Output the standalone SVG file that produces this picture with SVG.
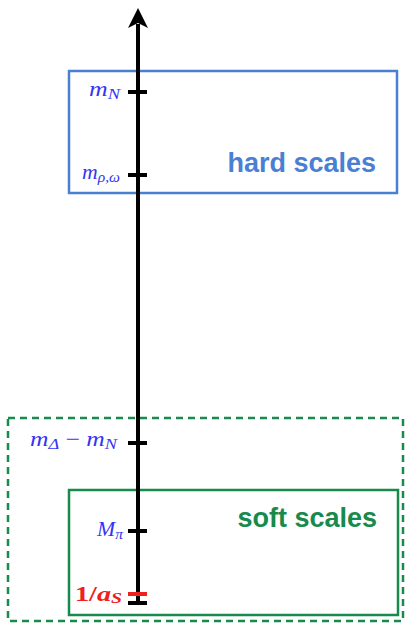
<svg xmlns="http://www.w3.org/2000/svg" width="406" height="624" viewBox="0 0 406 624">
<style>
.math{font-family:"Liberation Serif","DejaVu Serif",serif;font-style:italic;fill:#3434f4;font-size:21px}
.sub{font-size:15px}
.tick{stroke:#000;stroke-width:4}
.title{font-family:"Liberation Sans",Arial,sans-serif;font-weight:bold;font-size:27px}
</style>
<rect width="406" height="624" fill="#fff"/>
<g id="soft-outer">
<rect x="8" y="418" width="395" height="203" fill="none" stroke="#178a4c" stroke-width="2.5" stroke-dasharray="7,5"/>
</g>
<g id="hard-scales">
<rect x="69" y="71" width="328" height="122" fill="none" stroke="#4a80d4" stroke-width="2.5"/>
<text class="title" x="376" y="172" text-anchor="end" fill="#4a80d4">hard scales</text>
</g>
<g id="soft-scales">
<rect x="69" y="490" width="329" height="125" fill="none" stroke="#178a4c" stroke-width="2.5"/>
<text class="title" x="377" y="527" text-anchor="end" fill="#178a4c">soft scales</text>
</g>
<g id="connectors">
<line x1="138" y1="24" x2="138" y2="604" stroke="#000" stroke-width="4"/>
<path d="M138,8 L148,28 L138,23 L128,28 Z" fill="#000"/>
</g>
<g id="tick-mN">
<line class="tick" x1="128" y1="92" x2="147" y2="92"/>
<text class="math" x="89" y="96" textLength="31" lengthAdjust="spacingAndGlyphs">m<tspan class="sub" dy="3">N</tspan></text>
</g>
<g id="tick-mrho">
<line class="tick" x1="128" y1="175" x2="147" y2="175"/>
<text class="math" x="82" y="179" textLength="38" lengthAdjust="spacingAndGlyphs">m<tspan class="sub" dy="3">ρ,ω</tspan></text>
</g>
<g id="tick-mdelta">
<line class="tick" x1="128" y1="443" x2="147" y2="443"/>
<text class="math" x="30" y="446" textLength="87" lengthAdjust="spacingAndGlyphs">m<tspan class="sub" dy="3">Δ</tspan><tspan dy="-3" font-style="normal"> − </tspan>m<tspan class="sub" dy="3">N</tspan></text>
</g>
<g id="tick-mpi">
<line class="tick" x1="128" y1="531" x2="147" y2="531"/>
<text class="math" x="97" y="536" textLength="26" lengthAdjust="spacingAndGlyphs">M<tspan class="sub" dy="3">π</tspan></text>
</g>
<g id="tick-as">
<line x1="128" y1="594" x2="147" y2="594" stroke="#f02020" stroke-width="4"/>
<line class="tick" x1="128" y1="603" x2="147" y2="603"/>
<text x="75" y="601" textLength="47" lengthAdjust="spacingAndGlyphs" font-family="Liberation Serif,serif" font-weight="bold" font-size="20" fill="#f02020">1/<tspan font-style="italic">a</tspan><tspan font-style="italic" font-size="14" dy="2">S</tspan></text>
</g>
</svg>
